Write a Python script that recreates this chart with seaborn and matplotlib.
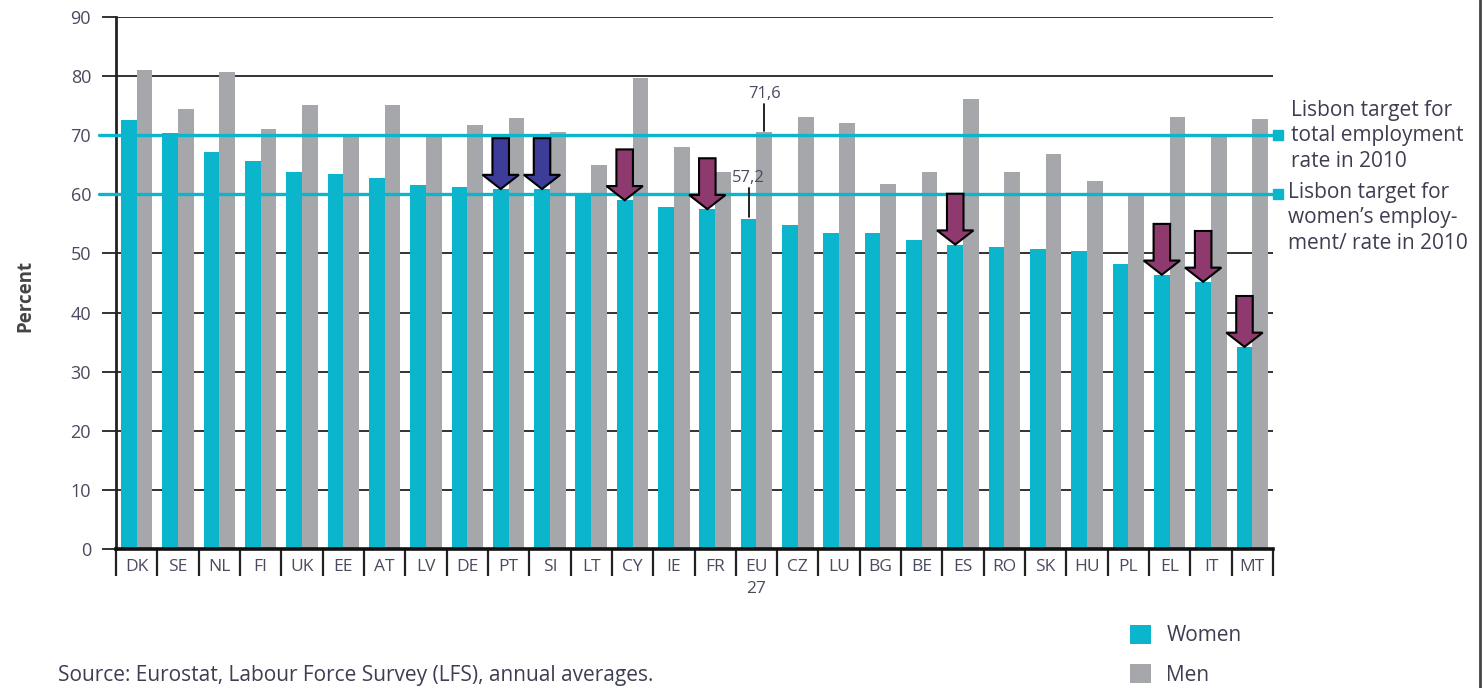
import numpy as np
import pandas as pd
import matplotlib.pyplot as plt
import seaborn as sns
from matplotlib.lines import Line2D

# data
countries = ["DK", "SE", "NL", "FI", "UK", "EE", "AT", "LV", "DE", "PT", "SI", "LT", "CY", "IE",
             "FR", "EU\n27", "CZ", "LU", "BG", "BE", "ES", "RO", "SK", "HU", "PL", "EL", "IT", "MT"]
women = [72.5, 70.3, 67.2, 65.7, 63.8, 63.5, 62.7, 61.6, 61.2, 60.9, 60.9, 59.9, 59.0, 57.9,
         57.5, 55.9, 54.8, 53.4, 53.4, 52.3, 51.5, 51.1, 50.8, 50.4, 48.2, 46.4, 45.2, 34.2]
men = [81.0, 74.4, 80.7, 71.0, 75.1, 69.8, 75.1, 69.8, 71.7, 72.9, 70.5, 65.0, 79.6, 68.0,
       63.8, 70.5, 73.1, 72.0, 61.7, 63.8, 76.2, 63.8, 66.8, 62.3, 59.8, 73.1, 69.7, 72.8]

total_target = 70
women_target = 60

arrow_countries = ["PT", "SI", "CY", "FR", "ES", "EL", "IT", "MT"]
arrow_colors = ["#3d3d99", "#3d3d99", "#8f3a6e", "#8f3a6e", "#8f3a6e", "#8f3a6e", "#8f3a6e", "#8f3a6e"]

eu_labels = ["57,2", "71,6"]

TEAL = "#0bb5cc"
GREY = "#a6a7ab"
TXT = "#4a4a5e"
DARK = "#3e3e52"

df = pd.DataFrame({
    "country": countries * 2,
    "value": women + men,
    "sex": ["Women"] * len(women) + ["Men"] * len(men),
})

sns.set_style("white")
plt.rcParams["font.family"] = ["Open Sans", "DejaVu Sans"]

fig = plt.figure(figsize=(14.83, 6.88), dpi=100)
ax = fig.add_axes([116 / 1483, 139 / 688, (1273 - 116) / 1483, 532 / 688])

sns.barplot(data=df, x="country", y="value", hue="sex", hue_order=["Women", "Men"],
            palette={"Women": TEAL, "Men": GREY}, saturation=1, width=0.76,
            linewidth=0, ax=ax, zorder=2)

handles, labels = ax.get_legend_handles_labels()
ax.get_legend().remove()

ax.set_ylim(0, 90)
ax.set_xlim(-0.5, len(countries) - 0.5)
ax.set_yticks(range(0, 91, 10))
ax.set_xlabel("")
ax.set_ylabel("")
ax.yaxis.grid(True, color="#222222", lw=1.3)
ax.set_axisbelow(True)
for s in ["top", "right"]:
    ax.spines[s].set_visible(False)
ax.spines["left"].set_color("#222222")
ax.spines["left"].set_linewidth(2)
ax.spines["bottom"].set_color("#111111")
ax.spines["bottom"].set_linewidth(2.6)
ax.tick_params(axis="y", length=10, width=1.3, color="#222222", pad=8,
               labelsize=13, labelcolor=TXT, left=True)
ax.tick_params(axis="x", length=0, pad=7, labelsize=12.5, labelcolor=TXT)
for lbl in ax.get_xticklabels():
    lbl.set_linespacing(1.55)

# category separators under the axis
ax.vlines(np.arange(-0.5, len(countries)), 0, -27 / 532, transform=ax.get_xaxis_transform(),
          color="#222222", lw=1.6, clip_on=False)

# Lisbon target lines
for t in [total_target, women_target]:
    ax.plot([-0.92, 27.62], [t, t], color=TEAL, lw=2.4, clip_on=False, zorder=3)
    ax.plot([27.62], [t], marker="s", ms=7, color=TEAL, clip_on=False, zorder=3)

# arrows on the women bars
women_bars = ax.containers[0]
men_bars = ax.containers[1]
for c, col in zip(arrow_countries, arrow_colors):
    p = women_bars[countries.index(c)]
    xc = p.get_x() + p.get_width() / 2
    top = p.get_height()
    ax.arrow(xc, top + 8.6, 0, -8.6, width=0.4, head_width=0.88, head_length=2.4,
             length_includes_head=True, fc=col, ec="black", lw=1.5, zorder=4)

# EU value labels
eu = countries.index("EU\n27")
for bars, lab, off in zip([women_bars, men_bars], eu_labels, [5.1, 4.7]):
    p = bars[eu]
    xc = p.get_x() + p.get_width() / 2
    top = p.get_height()
    ax.plot([xc, xc], [top + 0.2, top + off], color="#111111", lw=1.3, zorder=4)
    ax.text(xc, top + off + 0.4, lab, ha="center", va="bottom", fontsize=12, color=TXT, zorder=5)

fig.text(1291 / 1483, (688 - 136) / 688, "Lisbon target for\ntotal employment\nrate in 2010",
         ha="left", va="center", fontsize=15, color=DARK, linespacing=1.3)
fig.text(1288 / 1483, (688 - 218) / 688, "Lisbon target for\nwomen\u2019s employ-\nment/ rate in 2010",
         ha="left", va="center", fontsize=15, color=DARK, linespacing=1.3)

fig.text(25 / 1483, (688 - 296) / 688, "Percent", rotation=90, ha="center", va="center",
         fontsize=13.5, fontweight="bold", color="#444444")

fig.text(58 / 1483, (688 - 676) / 688, "Source: Eurostat, Labour Force Survey (LFS), annual averages.",
         ha="left", va="center", fontsize=15, color=DARK)

fig.legend(handles, labels, loc="upper left", bbox_to_anchor=(1130 / 1483, (688 - 625) / 688),
           frameon=False, fontsize=15, handlelength=1.0, handleheight=1.0,
           labelspacing=0.85, handletextpad=0.75, borderpad=0, borderaxespad=0,
           labelcolor=DARK)

fig.add_artist(Line2D([1480 / 1483] * 2, [0, 1], transform=fig.transFigure, color="#444444", lw=2))

fig.savefig("out.png", dpi=100)
